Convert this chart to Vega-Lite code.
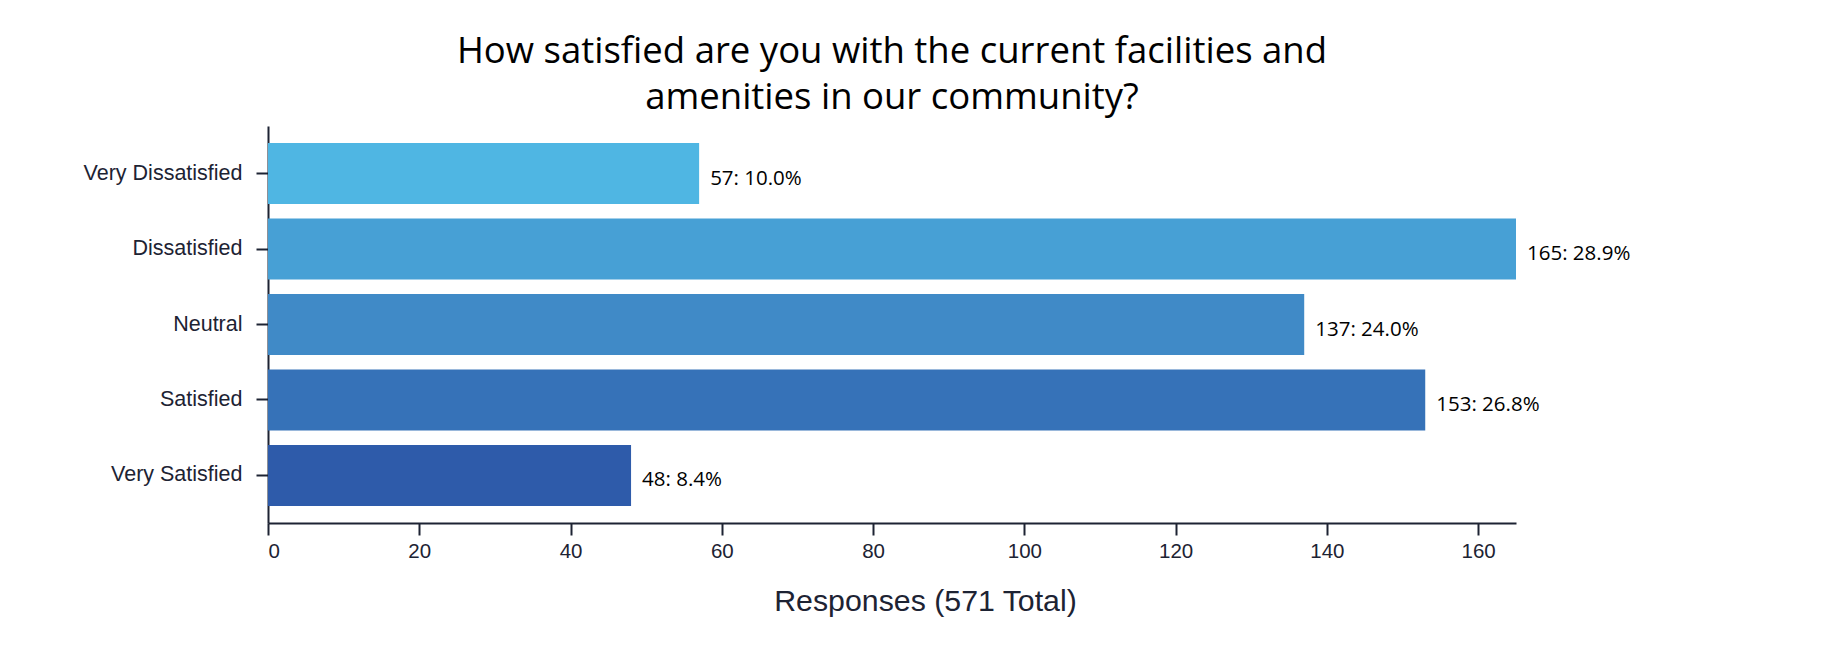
{
  "$schema": "https://vega.github.io/schema/vega-lite/v6.json",
  "autosize": "none",
  "width": 1248,
  "height": 397,
  "padding": {"left": 268, "top": 126, "right": 331, "bottom": 127},
  "background": "white",
  "title": {
    "text": ["How satisfied are you with the current facilities and", "amenities in our community?"],
    "font": "Open Sans",
    "fontSize": 36.5,
    "fontWeight": "normal",
    "color": "#000000",
    "anchor": "middle",
    "offset": 10,
    "lineHeight": 46
  },
  "data": {
    "values": [
      {"rating": "Very Dissatisfied", "responses": 57, "label": "57: 10.0%"},
      {"rating": "Dissatisfied", "responses": 165, "label": "165: 28.9%"},
      {"rating": "Neutral", "responses": 137, "label": "137: 24.0%"},
      {"rating": "Satisfied", "responses": 153, "label": "153: 26.8%"},
      {"rating": "Very Satisfied", "responses": 48, "label": "48: 8.4%"}
    ]
  },
  "encoding": {
    "y": {
      "field": "rating",
      "type": "nominal",
      "sort": null,
      "scale": {"paddingInner": 0.19, "paddingOuter": 0.225},
      "axis": {
        "title": null,
        "domainColor": "#1d2333",
        "domainWidth": 2,
        "tickColor": "#1d2333",
        "tickWidth": 2,
        "tickSize": 12,
        "labelFont": "Liberation Sans",
        "labelFontSize": 21.5,
        "labelColor": "#1d2333",
        "labelPadding": 14
      }
    }
  },
  "layer": [
    {
      "mark": {"type": "bar"},
      "encoding": {
        "x": {
          "field": "responses",
          "type": "quantitative",
          "scale": {"domain": [0, 165], "nice": false},
          "axis": {
            "values": [0, 20, 40, 60, 80, 100, 120, 140, 160],
            "grid": false,
            "domainColor": "#1d2333",
            "domainWidth": 2,
            "tickColor": "#1d2333",
            "tickWidth": 2,
            "tickSize": 12,
            "labelFont": "Liberation Sans",
            "labelFontSize": 20.5,
            "labelColor": "#1d2333",
            "labelPadding": 6,
            "title": "Responses (571 Total)",
            "titleFont": "Liberation Sans",
            "titleFontSize": 30.3,
            "titleFontWeight": "normal",
            "titleColor": "#1d2333",
            "titleX": 657,
            "titleY": 87,
            "titleBaseline": "alphabetic",
            "titleAlign": "center"
          }
        },
        "color": {
          "field": "rating",
          "type": "nominal",
          "sort": null,
          "legend": null,
          "scale": {
            "domain": ["Very Dissatisfied", "Dissatisfied", "Neutral", "Satisfied", "Very Satisfied"],
            "range": ["#4fb6e3", "#47a0d5", "#408ac7", "#3672b8", "#2e5baa"]
          }
        }
      }
    },
    {
      "mark": {
        "type": "text",
        "align": "left",
        "baseline": "middle",
        "dx": 11,
        "dy": 5,
        "font": "Open Sans",
        "fontSize": 20.5,
        "color": "#000000"
      },
      "encoding": {
        "x": {"field": "responses", "type": "quantitative"},
        "text": {"field": "label"}
      }
    }
  ],
  "config": {"view": {"stroke": null}}
}
